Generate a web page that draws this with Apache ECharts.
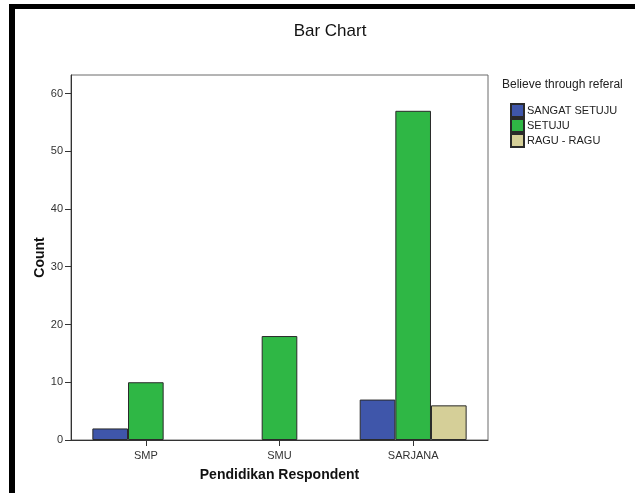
<!DOCTYPE html>
<html>
<head>
<meta charset="utf-8">
<script src="https://cdn.jsdelivr.net/npm/echarts@6/dist/echarts.min.js"></script>
<style>
  html, body { margin: 0; padding: 0; background: #ffffff; }
  #chart { width: 635px; height: 493px; }
</style>
</head>
<body>
<div id="chart"></div>
<script>
// Counts of respondents by education level and referral belief
const categories = ['SMP', 'SMU', 'SARJANA'];
const seriesNames = ['SANGAT SETUJU', 'SETUJU', 'RAGU - RAGU'];
const sangatSetuju = [2, null, 7];
const setuju = [10, 18, 57];
const raguRagu = [null, null, 6];
const yTicks = [0, 10, 20, 30, 40, 50, 60];
const yMax = 63.2;

const colors = ['#3f56aa', '#2fb745', '#d5cf98'];
const FONT = 'Liberation Sans, Arial, sans-serif';

const chart = echarts.init(document.getElementById('chart'), null, { renderer: 'canvas' });

const barStyle = (i) => ({
  color: colors[i],
  borderColor: '#2a2a2a',
  borderWidth: 1
});

chart.setOption({
  animation: false,
  backgroundColor: '#ffffff',
  textStyle: { fontFamily: FONT },
  title: [
    {
      text: 'Bar Chart',
      left: 330,
      textAlign: 'center',
      top: 23,
      padding: 0,
      textStyle: { fontFamily: FONT, fontSize: 17, fontWeight: 'normal', color: '#111' }
    },
    {
      text: 'Believe through referal',
      left: 502,
      top: 79,
      padding: 0,
      textStyle: { fontFamily: FONT, fontSize: 12, fontWeight: 'normal', color: '#222' }
    }
  ],
  legend: {
    orient: 'vertical',
    left: 510,
    top: 103,
    padding: 0,
    itemGap: 0,
    itemWidth: 13,
    itemHeight: 13,
    icon: 'rect',
    data: seriesNames,
    textStyle: { fontFamily: FONT, fontSize: 11, color: '#222', padding: [0, 0, 0, -2] }
  },
  grid: [
    // outer plot frame carrying the count axis
    { left: 71, right: 147, top: 75, bottom: 53, show: true, borderColor: '#6a6a6a', borderWidth: 1, backgroundColor: 'transparent' },
    // inner band holding the clustered bars
    { left: 79, right: 155, top: 75, bottom: 53 }
  ],
  xAxis: [
    {
      gridIndex: 0,
      type: 'category',
      data: [''],
      axisLine: { show: true, lineStyle: { color: '#333', width: 1 } },
      axisTick: { show: false },
      axisLabel: { show: false },
      name: 'Pendidikan Respondent',
      nameLocation: 'middle',
      nameGap: 28,
      nameMoveOverlap: false,
      nameTextStyle: { fontFamily: FONT, fontSize: 14, fontWeight: 'bold', color: '#111' }
    },
    {
      gridIndex: 1,
      type: 'category',
      data: categories,
      axisLine: { show: false },
      axisTick: { show: true, alignWithLabel: true, length: 6, lineStyle: { color: '#333' } },
      axisLabel: { margin: 10, fontFamily: FONT, fontSize: 11, color: '#333' }
    }
  ],
  yAxis: [
    {
      gridIndex: 0,
      type: 'value',
      min: 0,
      max: yMax,
      interval: 10,
      axisLine: { show: true, lineStyle: { color: '#333', width: 1 } },
      axisTick: { show: true, length: 6, customValues: yTicks, lineStyle: { color: '#333' } },
      axisLabel: { margin: 8, customValues: yTicks, fontFamily: FONT, fontSize: 11, color: '#333' },
      splitLine: { show: false },
      name: 'Count',
      nameLocation: 'middle',
      nameGap: 24,
      nameMoveOverlap: false,
      nameRotate: 90,
      nameTextStyle: { fontFamily: FONT, fontSize: 14, fontWeight: 'bold', color: '#111' }
    },
    {
      gridIndex: 1,
      type: 'value',
      min: 0,
      max: yMax,
      show: false,
      splitLine: { show: false }
    }
  ],
  series: [
    { name: seriesNames[0], type: 'bar', xAxisIndex: 1, yAxisIndex: 1, data: sangatSetuju, barGap: '0%', barCategoryGap: '20%', itemStyle: barStyle(0) },
    { name: seriesNames[1], type: 'bar', xAxisIndex: 1, yAxisIndex: 1, data: setuju, barGap: '0%', barCategoryGap: '20%', itemStyle: barStyle(1) },
    { name: seriesNames[2], type: 'bar', xAxisIndex: 1, yAxisIndex: 1, data: raguRagu, barGap: '0%', barCategoryGap: '20%', itemStyle: barStyle(2) }
  ],
  graphic: [
    // heavy black edge along the top and left of the page
    { type: 'rect', left: 9, top: 4, shape: { width: 626, height: 5 }, style: { fill: '#000' }, silent: true },
    { type: 'rect', left: 9, top: 4, shape: { width: 6, height: 489 }, style: { fill: '#000' }, silent: true }
  ]
});
</script>
</body>
</html>
